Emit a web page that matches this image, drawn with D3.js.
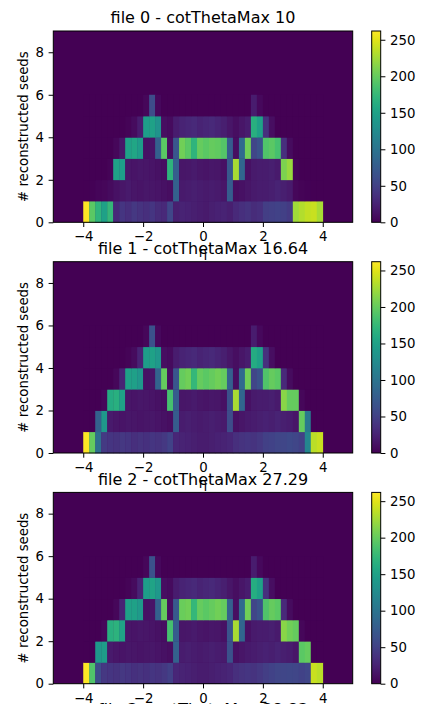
<!DOCTYPE html>
<html><head><meta charset="utf-8">
<script src="https://cdn.jsdelivr.net/npm/d3@7"></script>
<style>
body{margin:0;background:#fff}
svg{display:block}
text{font-family:"DejaVu Sans",sans-serif;fill:#000}
</style>
</head><body>
<svg id="c" width="421" height="704"></svg>
<script>
// ---- data ----
const titles = ["file 0 - cotThetaMax 10", "file 1 - cotThetaMax 16.64", "file 2 - cotThetaMax 27.29", "file 3 - cotThetaMax 38.83"];
const etaRange = [-5, 5];
const seedRange = [0, 9];
const binWidth = 0.2;
const etaBinLeft = [-4.0,-3.8,-3.6,-3.4,-3.2,-3.0,-2.8,-2.6,-2.4,-2.2,-2.0,-1.8,-1.6,-1.4,-1.2,-1.0,-0.8,-0.6,-0.4,-0.2,
                    0.0,0.2,0.4,0.6,0.8,1.0,1.2,1.4,1.6,1.8,2.0,2.2,2.4,2.6,2.8,3.0,3.2,3.4,3.6,3.8];
const xTicks = [-4, -2, 0, 2, 4];
const yTicks = [0, 2, 4, 6, 8];
const cbTicks = [0, 50, 100, 150, 200, 250];

// file 0: counts per eta bin for 0..5 reconstructed seeds
const f0_n0 = [262,195,170,150,175,30,40,35,42,38,35,40,32,30,55,22,25,24,22,20,18,22,24,25,22,30,35,38,32,35,48,50,52,50,45,225,232,238,240,228];
const f0_n1 = [0,2,4,5,8,12,15,18,15,14,16,15,14,12,10,80,18,20,22,20,18,20,18,15,75,10,12,15,18,20,20,22,25,22,18,5,3,2,0,0];
const f0_n2 = [0,0,0,0,3,150,145,15,14,16,15,14,12,10,170,78,15,16,18,15,14,16,15,12,72,228,85,12,18,20,20,22,18,210,222,3,0,0,0,0];
const f0_n3 = [0,0,0,0,0,5,15,150,155,145,12,14,80,195,10,70,205,195,170,200,195,200,198,192,75,10,90,205,55,65,190,195,185,35,8,0,0,0,0,0];
const f0_n4 = [0,0,0,0,0,0,0,3,8,20,145,150,135,10,8,20,25,28,30,25,28,30,26,22,15,10,15,20,165,150,35,10,0,0,0,0,0,0,0,0];
const f0_n5 = [0,0,0,0,0,0,0,0,0,0,5,60,6,0,0,0,0,0,0,0,0,0,0,0,0,0,0,0,20,6,0,0,0,0,0,0,0,0,0,0];

// file 1
const f1_n0 = [262,200,95,45,40,38,42,40,35,38,36,40,38,42,52,28,25,24,22,20,20,22,24,25,28,35,38,40,38,42,50,52,55,55,58,55,50,120,235,240];
const f1_n1 = [0,0,80,140,18,15,14,16,15,14,15,16,14,12,10,75,20,22,20,18,20,22,20,18,60,12,15,18,20,22,24,22,25,22,20,15,200,105,0,0];
const f1_n2 = [0,0,0,5,160,165,150,15,14,16,15,14,12,10,185,75,15,16,18,15,14,16,15,12,65,228,85,12,18,20,20,22,18,215,200,200,5,0,0,0];
const f1_n3 = [0,0,0,0,0,5,25,150,148,140,12,14,82,200,10,70,200,205,175,200,195,200,205,200,78,10,90,205,55,65,190,200,195,30,8,0,0,0,0,0];
const f1_n4 = [0,0,0,0,0,0,0,3,8,25,145,150,140,10,8,20,25,28,30,25,28,30,26,22,15,10,15,20,160,150,35,10,0,0,0,0,0,0,0,0];
const f1_n5 = [0,0,0,0,0,0,0,0,0,0,5,65,6,0,0,0,0,0,0,0,0,0,0,0,0,0,0,0,20,6,0,0,0,0,0,0,0,0,0,0];

// file 2
const f2_n0 = [262,190,60,42,40,38,42,40,36,38,36,40,38,42,50,28,25,24,22,20,20,22,24,25,28,35,38,40,38,42,48,52,55,55,56,55,52,55,240,235];
const f2_n1 = [0,0,140,145,18,15,14,16,15,14,15,16,14,12,10,80,20,22,20,18,20,22,20,18,65,12,15,18,20,22,24,22,25,22,20,15,195,200,0,0];
const f2_n2 = [0,0,0,5,165,168,152,15,14,16,15,14,12,10,185,75,15,16,18,15,14,16,15,12,68,228,85,12,18,20,20,22,18,215,205,200,5,0,0,0];
const f2_n3 = [0,0,0,0,0,5,25,150,150,142,12,14,80,200,10,72,202,205,175,200,195,200,205,200,78,10,90,205,55,65,190,200,195,30,8,0,0,0,0,0];
const f2_n4 = [0,0,0,0,0,0,0,3,8,25,145,152,140,10,8,20,25,28,30,25,28,30,26,22,15,10,15,20,162,150,35,10,0,0,0,0,0,0,0,0];
const f2_n5 = [0,0,0,0,0,0,0,0,0,0,5,65,6,0,0,0,0,0,0,0,0,0,0,0,0,0,0,0,20,6,0,0,0,0,0,0,0,0,0,0];

const panels = [
  [f0_n0, f0_n1, f0_n2, f0_n3, f0_n4, f0_n5],
  [f1_n0, f1_n1, f1_n2, f1_n3, f1_n4, f1_n5],
  [f2_n0, f2_n1, f2_n2, f2_n3, f2_n4, f2_n5]
];

// ---- layout ----
const svg = d3.select("#c");
const plotX0 = 53.3, plotX1 = 352.7, plotH = 191.3;
const panelTops = [31, 261.7, 492.4, 723.1];
const cbX0 = 371.7, cbW = 9;
const tickFont = 13.3, titleFont = 16;
const tickLen = 4.7, tickPad = 4.7;

const defs = svg.append("defs");
const grad = defs.append("linearGradient").attr("id", "vir")
  .attr("x1", 0).attr("y1", 1).attr("x2", 0).attr("y2", 0);
d3.range(0, 1.0001, 0.05).forEach(t => {
  grad.append("stop").attr("offset", t).attr("stop-color", d3.interpolateViridis(t));
});

function styleAxis(g) {
  g.attr("font-family", '"DejaVu Sans", sans-serif').attr("font-size", tickFont);
  g.select(".domain").remove();
  g.selectAll(".tick line").attr("stroke", "#000").attr("stroke-width", 1);
  g.selectAll(".tick text").attr("fill", "#000");
}

panels.forEach((rows, p) => {
  const top = panelTops[p];
  const bottom = top + plotH;
  const x = d3.scaleLinear().domain(etaRange).range([plotX0, plotX1]);
  const y = d3.scaleLinear().domain(seedRange).range([bottom, top]);
  const vmax = d3.max(rows, r => d3.max(r));
  const color = d3.scaleSequential(d3.interpolateViridis).domain([0, vmax]);

  const g = svg.append("g");
  // zero bins (whole histogram range)
  g.append("rect").attr("x", x(etaRange[0])).attr("y", y(seedRange[1]))
    .attr("width", x(etaRange[1]) - x(etaRange[0])).attr("height", y(seedRange[0]) - y(seedRange[1]))
    .attr("fill", color(0));
  const cells = [];
  rows.forEach((vals, n) => vals.forEach((v, j) => cells.push({eta: etaBinLeft[j], n: n, v: v})));
  g.selectAll("rect.cell").data(cells).join("rect").attr("class", "cell")
    .attr("x", d => x(d.eta))
    .attr("y", d => y(d.n + 1))
    .attr("width", d => x(d.eta + binWidth) - x(d.eta) + 0.35)
    .attr("height", d => y(d.n) - y(d.n + 1) + 0.35)
    .attr("fill", d => color(d.v));
  // frame
  g.append("rect").attr("x", plotX0).attr("y", top).attr("width", plotX1 - plotX0).attr("height", plotH)
    .attr("fill", "none").attr("stroke", "#000").attr("stroke-width", 1);

  // axes
  const ax = g.append("g").attr("transform", `translate(0,${bottom})`)
    .call(d3.axisBottom(x).tickValues(xTicks).tickSize(tickLen).tickPadding(tickPad));
  styleAxis(ax);
  const ay = g.append("g").attr("transform", `translate(${plotX0},0)`)
    .call(d3.axisLeft(y).tickValues(yTicks).tickSize(tickLen).tickPadding(tickPad));
  styleAxis(ay);

  // labels
  g.append("text").attr("transform", "rotate(-90)")
    .attr("x", -(top + plotH / 2)).attr("y", 27.5)
    .attr("text-anchor", "middle").attr("font-size", tickFont)
    .text("# reconstructed seeds");
  g.append("text").attr("x", (plotX0 + plotX1) / 2).attr("y", bottom + 34.7)
    .attr("text-anchor", "middle").attr("font-size", tickFont).text("η");

  // colorbar
  const cb = d3.scaleLinear().domain([0, vmax]).range([bottom, top]);
  g.append("rect").attr("x", cbX0).attr("y", top).attr("width", cbW).attr("height", plotH)
    .attr("fill", "url(#vir)").attr("stroke", "#000").attr("stroke-width", 1);
  const ac = g.append("g").attr("transform", `translate(${cbX0 + cbW},0)`)
    .call(d3.axisRight(cb).tickValues(cbTicks).tickSize(tickLen).tickPadding(tickPad));
  styleAxis(ac);
});

// titles (drawn last so they overlap the x labels like the reference)
titles.forEach((t, p) => {
  svg.append("text").attr("x", (plotX0 + plotX1) / 2).attr("y", panelTops[p] - 7.7)
    .attr("text-anchor", "middle").attr("font-size", titleFont).text(t);
});
</script>
</body></html>
